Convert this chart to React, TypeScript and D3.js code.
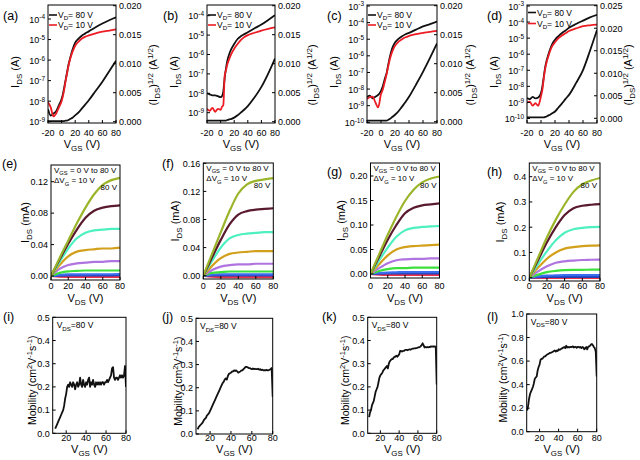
import React from 'react';
import * as d3 from 'd3';

const FONT = '"Liberation Sans", Arial, Helvetica, sans-serif';

// ---------------- Transfer curves (a-d) ----------------
const vgsTransfer = [-20, -16, -12, -8, -4, 0, 2, 4, 6, 8, 10, 13, 16, 20, 25, 30, 35, 40, 50, 60, 70, 80];

const idsA80 = [4.0e-9, 2.0e-9, 2.5e-9, 3.2e-9, 6.3e-9, 1.26e-8, 2.24e-8, 5.0e-8, 1.12e-7, 2.5e-7, 5.6e-7, 1.41e-6, 3.2e-6, 7.1e-6, 1.12e-5, 1.58e-5, 2.0e-5, 2.5e-5, 4.0e-5, 6.0e-5, 8.7e-5, 1.2e-4];
const idsA10 = [8.9e-9, 5.0e-9, 1.8e-9, 2.5e-9, 5.0e-9, 1.0e-8, 1.8e-8, 4.0e-8, 1.0e-7, 2.24e-7, 5.0e-7, 1.26e-6, 2.5e-6, 5.0e-6, 7.9e-6, 1.12e-5, 1.38e-5, 1.58e-5, 2.0e-5, 2.4e-5, 2.75e-5, 3.16e-5];
const sqrtA = [0.0001, 0.0001, 0.0001, 0.0001, 0.0001, 0.0001, 0.0001, 0.0001, 0.0002, 0.0002, 0.0003, 0.0005, 0.0007, 0.0011, 0.0016, 0.0023, 0.003, 0.0037, 0.0053, 0.0069, 0.0087, 0.0105];

const idsB80 = [1.0e-8, 8.9e-9, 7.9e-9, 7.9e-9, 7.1e-9, 6.3e-9, 7.1e-9, 1.26e-8, 6.3e-8, 2.0e-7, 5.0e-7, 1.12e-6, 2.0e-6, 3.5e-6, 6.3e-6, 8.9e-6, 1.12e-5, 1.41e-5, 2.24e-5, 3.5e-5, 6.0e-5, 1.07e-4];
const idsB10 = [1.58e-9, 1.26e-9, 1.78e-9, 1.12e-9, 1.58e-9, 1.41e-9, 2.0e-9, 2.5e-9, 7.9e-8, 1.58e-7, 3.2e-7, 6.3e-7, 1.12e-6, 2.0e-6, 3.5e-6, 5.6e-6, 7.9e-6, 1.0e-5, 1.32e-5, 1.7e-5, 2.1e-5, 2.5e-5];
const sqrtB = [0.0002, 0.0002, 0.0002, 0.0002, 0.0002, 0.0002, 0.0002, 0.0002, 0.0002, 0.0002, 0.0003, 0.0004, 0.0005, 0.0007, 0.0011, 0.0016, 0.0021, 0.0027, 0.0042, 0.006, 0.0083, 0.0109];

const idsC80 = [3.3e-9, 4.0e-9, 2.8e-9, 3.5e-9, 4.5e-9, 7.9e-9, 1.26e-8, 2.5e-8, 5.0e-8, 8.9e-8, 2.5e-7, 1.0e-6, 2.8e-6, 6.3e-6, 1.05e-5, 1.5e-5, 2.0e-5, 2.4e-5, 3.8e-5, 5.9e-5, 8.1e-5, 1.17e-4];
const idsC10 = [2.5e-9, 3.2e-9, 3.5e-9, 1.58e-9, 7.9e-10, 5.0e-9, 7.9e-9, 1.58e-8, 3.5e-8, 7.9e-8, 2.0e-7, 7.1e-7, 1.78e-6, 4.0e-6, 7.1e-6, 1.0e-5, 1.32e-5, 1.58e-5, 2.0e-5, 2.4e-5, 2.8e-5, 3.2e-5];
const sqrtC = [0.0002, 0.0002, 0.0002, 0.0002, 0.0002, 0.0002, 0.0002, 0.0002, 0.0002, 0.0002, 0.0003, 0.0005, 0.0008, 0.0012, 0.0018, 0.0026, 0.0034, 0.0043, 0.0064, 0.0086, 0.011, 0.0135];

const idsD80 = [1.9e-9, 1.58e-9, 2.24e-9, 1.78e-9, 2.0e-9, 3.8e-9, 1.0e-8, 4.0e-8, 1.58e-7, 4.0e-7, 7.9e-7, 2.0e-6, 4.3e-6, 7.9e-6, 1.35e-5, 2.1e-5, 3.0e-5, 4.4e-5, 7.6e-5, 1.23e-4, 1.95e-4, 2.8e-4];
const idsD10 = [9.5e-10, 1.12e-9, 6.3e-10, 8.9e-10, 6.3e-10, 2.5e-9, 6.3e-9, 3.2e-8, 1.26e-7, 3.2e-7, 6.3e-7, 1.58e-6, 3.2e-6, 5.6e-6, 1.0e-5, 1.48e-5, 2.0e-5, 2.75e-5, 4.0e-5, 5.5e-5, 6.3e-5, 6.9e-5];
const sqrtD = [0.0002, 0.0002, 0.0002, 0.0002, 0.0002, 0.0002, 0.0002, 0.0002, 0.0003, 0.0004, 0.0006, 0.0008, 0.0011, 0.0015, 0.0024, 0.0033, 0.0043, 0.0052, 0.0078, 0.0107, 0.015, 0.0196];

const transferXTicks = [-20, 0, 20, 40, 60, 80];
const logTicks9to4 = [1e-9, 1e-8, 1e-7, 1e-6, 1e-5, 1e-4];
const logTicks10to3 = [1e-10, 1e-9, 1e-8, 1e-7, 1e-6, 1e-5, 1e-4, 1e-3];
const sqrtTicks20 = [0, 0.005, 0.01, 0.015, 0.02];
const sqrtTicks25 = [0, 0.005, 0.01, 0.015, 0.02, 0.025];

// ---------------- Output curves (e-h) ----------------
const vdsOutput = [0, 10, 20, 30, 40, 50, 60, 70, 80];
const vgsSteps = ['80', '70', '60', '50', '40', '30', '20', '10', '0'];
const outColors = ['#9ab52a', '#5a1a2e', '#4ef0c0', '#d3a01c', '#b074e0', '#3ce03c', '#3a6cf0', '#2040b8', '#f0304a'];

const outE = [
  [0, 0.023, 0.045, 0.067, 0.087, 0.104, 0.116, 0.122, 0.125],
  [0, 0.021, 0.041, 0.059, 0.074, 0.083, 0.087, 0.089, 0.09],
  [0, 0.018, 0.035, 0.048, 0.055, 0.058, 0.059, 0.06, 0.06],
  [0, 0.014, 0.025, 0.031, 0.033, 0.034, 0.035, 0.035, 0.036],
  [0, 0.009, 0.014, 0.016, 0.017, 0.018, 0.018, 0.019, 0.019],
  [0, 0.004, 0.006, 0.0065, 0.007, 0.007, 0.007, 0.007, 0.007],
  [0, 0.0015, 0.002, 0.002, 0.002, 0.0022, 0.0022, 0.0022, 0.0023],
  [0, 0.0005, 0.0008, 0.0008, 0.0008, 0.0009, 0.0009, 0.0009, 0.001],
  [0, -0.0008, -0.001, -0.001, -0.001, -0.001, -0.0011, -0.0011, -0.0012],
];
const outF = [
  [0, 0.031, 0.062, 0.092, 0.117, 0.13, 0.135, 0.137, 0.139],
  [0, 0.026, 0.051, 0.073, 0.087, 0.092, 0.094, 0.095, 0.096],
  [0, 0.021, 0.04, 0.053, 0.058, 0.06, 0.061, 0.062, 0.062],
  [0, 0.014, 0.025, 0.031, 0.033, 0.034, 0.035, 0.035, 0.035],
  [0, 0.008, 0.013, 0.015, 0.016, 0.016, 0.017, 0.017, 0.017],
  [0, 0.004, 0.005, 0.006, 0.006, 0.006, 0.006, 0.006, 0.006],
  [0, 0.0015, 0.002, 0.002, 0.002, 0.002, 0.002, 0.002, 0.002],
  [0, 0.0004, 0.0005, 0.0005, 0.0005, 0.0005, 0.0005, 0.0005, 0.0005],
  [0, -0.0015, -0.002, -0.002, -0.002, -0.002, -0.002, -0.002, -0.002],
];
const outG = [
  [0, 0.04, 0.08, 0.117, 0.149, 0.172, 0.187, 0.195, 0.199],
  [0, 0.035, 0.07, 0.1, 0.124, 0.135, 0.14, 0.142, 0.144],
  [0, 0.028, 0.054, 0.076, 0.089, 0.094, 0.096, 0.097, 0.098],
  [0, 0.02, 0.038, 0.05, 0.055, 0.057, 0.058, 0.059, 0.06],
  [0, 0.012, 0.022, 0.028, 0.03, 0.031, 0.031, 0.032, 0.032],
  [0, 0.006, 0.01, 0.012, 0.012, 0.013, 0.013, 0.013, 0.013],
  [0, 0.002, 0.003, 0.0035, 0.004, 0.004, 0.004, 0.004, 0.004],
  [0, 0.0006, 0.001, 0.001, 0.001, 0.001, 0.001, 0.001, 0.001],
  [0, -0.0015, -0.002, -0.002, -0.002, -0.002, -0.002, -0.002, -0.002],
];
const outH = [
  [0, 0.08, 0.16, 0.23, 0.29, 0.34, 0.37, 0.385, 0.395],
  [0, 0.07, 0.14, 0.2, 0.248, 0.275, 0.285, 0.289, 0.291],
  [0, 0.055, 0.105, 0.148, 0.178, 0.192, 0.197, 0.2, 0.201],
  [0, 0.04, 0.075, 0.1, 0.115, 0.121, 0.125, 0.127, 0.128],
  [0, 0.025, 0.045, 0.059, 0.065, 0.068, 0.07, 0.071, 0.072],
  [0, 0.012, 0.022, 0.027, 0.03, 0.031, 0.031, 0.032, 0.032],
  [0, 0.005, 0.008, 0.009, 0.01, 0.01, 0.01, 0.01, 0.01],
  [0, 0.002, 0.003, 0.003, 0.003, 0.003, 0.003, 0.003, 0.003],
  [0, -0.001, -0.001, -0.001, -0.001, -0.001, -0.001, -0.001, -0.001],
];
const outXTicks = [0, 20, 40, 60, 80];
const outTicksE = [0, 0.04, 0.08, 0.12];
const outTicksF = [0, 0.04, 0.08, 0.12, 0.16];
const outTicksG = [0, 0.05, 0.1, 0.15, 0.2];
const outTicksH = [0, 0.1, 0.2, 0.3, 0.4];

// ---------------- Mobility (i-l), one value per 1 V step ----------------
const mobStartI = 9;
const mobI = [0.02, 0.03, 0.04, 0.05, 0.06, 0.07, 0.08, 0.09, 0.10, 0.12, 0.15, 0.17, 0.20, 0.21, 0.20, 0.22, 0.21, 0.20, 0.22, 0.21, 0.19, 0.21, 0.22, 0.20, 0.21, 0.24, 0.21, 0.20, 0.23, 0.21, 0.20, 0.22, 0.21, 0.23, 0.24, 0.20, 0.22, 0.21, 0.23, 0.21, 0.20, 0.22, 0.21, 0.22, 0.21, 0.22, 0.21, 0.22, 0.22, 0.21, 0.22, 0.22, 0.23, 0.22, 0.23, 0.24, 0.25, 0.28, 0.285, 0.24, 0.23, 0.24, 0.24, 0.23, 0.24, 0.25, 0.24, 0.25, 0.24, 0.25, 0.29, 0.20];
const mobStartJ = 8;
const mobJ = [0.02, 0.03, 0.035, 0.04, 0.045, 0.05, 0.06, 0.065, 0.07, 0.08, 0.085, 0.09, 0.10, 0.11, 0.12, 0.13, 0.14, 0.15, 0.16, 0.17, 0.18, 0.19, 0.20, 0.21, 0.22, 0.225, 0.235, 0.24, 0.235, 0.25, 0.26, 0.262, 0.265, 0.27, 0.27, 0.275, 0.272, 0.275, 0.27, 0.265, 0.268, 0.27, 0.275, 0.275, 0.28, 0.285, 0.29, 0.29, 0.288, 0.285, 0.285, 0.282, 0.28, 0.283, 0.28, 0.282, 0.28, 0.28, 0.282, 0.278, 0.28, 0.276, 0.278, 0.275, 0.276, 0.275, 0.277, 0.275, 0.275, 0.278, 0.28, 0.285, 0.16];
const mobStartK = 8;
const mobK = [0.07, 0.09, 0.10, 0.12, 0.13, 0.14, 0.16, 0.18, 0.19, 0.20, 0.22, 0.24, 0.25, 0.255, 0.26, 0.27, 0.275, 0.28, 0.285, 0.29, 0.28, 0.30, 0.31, 0.315, 0.32, 0.32, 0.325, 0.33, 0.33, 0.335, 0.33, 0.335, 0.34, 0.355, 0.355, 0.352, 0.355, 0.355, 0.358, 0.36, 0.36, 0.358, 0.36, 0.362, 0.36, 0.362, 0.365, 0.365, 0.366, 0.366, 0.367, 0.368, 0.37, 0.37, 0.372, 0.375, 0.38, 0.388, 0.38, 0.37, 0.372, 0.37, 0.372, 0.37, 0.372, 0.372, 0.375, 0.374, 0.375, 0.373, 0.375, 0.372, 0.21];
const mobStartL = 7;
const mobL = [0.18, 0.22, 0.28, 0.32, 0.34, 0.36, 0.38, 0.41, 0.45, 0.46, 0.47, 0.52, 0.55, 0.57, 0.61, 0.62, 0.62, 0.63, 0.64, 0.64, 0.65, 0.655, 0.66, 0.665, 0.67, 0.67, 0.675, 0.68, 0.685, 0.69, 0.68, 0.69, 0.685, 0.70, 0.695, 0.70, 0.705, 0.71, 0.715, 0.72, 0.71, 0.73, 0.715, 0.72, 0.715, 0.72, 0.718, 0.72, 0.725, 0.715, 0.72, 0.72, 0.712, 0.72, 0.72, 0.715, 0.72, 0.71, 0.72, 0.715, 0.70, 0.71, 0.72, 0.70, 0.72, 0.725, 0.73, 0.74, 0.745, 0.735, 0.72, 0.71, 0.68, 0.47];
const mobXTicks = [20, 40, 60, 80];
const mobTicks05 = [0, 0.1, 0.2, 0.3, 0.4, 0.5];
const mobTicks10 = [0, 0.2, 0.4, 0.6, 0.8, 1.0];

// ---------------- helpers ----------------
type Seg = { t: string; s?: 'sub' | 'sup' };

function segsEl(segs: Seg[], size: number) {
  let shift = 0;
  return segs.map((sg, i) => {
    const target = sg.s === 'sub' ? size * 0.28 : sg.s === 'sup' ? -size * 0.34 : 0;
    const dy = target - shift;
    shift = target;
    return (
      <tspan key={i} dy={dy} fontSize={sg.s ? size * 0.72 : size}>
        {sg.t}
      </tspan>
    );
  });
}

function Txt({ x, y, segs, size, anchor = 'start', rotate = false, fill = '#000' }: any) {
  if (rotate) {
    return (
      <text transform={`translate(${x},${y}) rotate(-90)`} textAnchor={anchor} fontSize={size} fontFamily={FONT} fill={fill}>
        {segsEl(segs, size)}
      </text>
    );
  }
  return (
    <text x={x} y={y} textAnchor={anchor} fontSize={size} fontFamily={FONT} fill={fill}>
      {segsEl(segs, size)}
    </text>
  );
}

const TICK = 3;
const TF = 9; // tick font
const AF = 11; // axis title font

function Frame({ x0, x1, y0, y1 }: any) {
  return <rect x={x0} y={y0} width={x1 - x0} height={y1 - y0} fill="none" stroke="#000" strokeWidth={1} />;
}

function XAxis({ scale, ticks, y1, fmt, base }: any) {
  return (
    <g>
      {ticks.map((t: number) => (
        <g key={t}>
          <line x1={scale(t)} x2={scale(t)} y1={y1} y2={y1 - TICK} stroke="#000" />
          <text x={scale(t)} y={base} textAnchor="middle" fontSize={TF} fontFamily={FONT}>
            {fmt(t)}
          </text>
        </g>
      ))}
    </g>
  );
}

function YAxisLin({ scale, ticks, x0, fmt, right = false }: any) {
  return (
    <g>
      {ticks.map((t: number) => (
        <g key={t}>
          <line x1={x0} x2={right ? x0 - TICK : x0 + TICK} y1={scale(t)} y2={scale(t)} stroke="#000" />
          <text x={right ? x0 + 3 : x0 - 3} y={scale(t) + 3.3} textAnchor={right ? 'start' : 'end'} fontSize={TF} fontFamily={FONT}>
            {fmt(t)}
          </text>
        </g>
      ))}
    </g>
  );
}

function YAxisLog({ scale, ticks, x0 }: any) {
  return (
    <g>
      {ticks.map((t: number) => (
        <g key={t}>
          <line x1={x0} x2={x0 + TICK} y1={scale(t)} y2={scale(t)} stroke="#000" />
          <Txt x={x0 - 3} y={scale(t) + 3.5} size={TF} anchor="end" segs={[{ t: '10' }, { t: String(Math.round(Math.log10(t))), s: 'sup' }]} />
        </g>
      ))}
    </g>
  );
}

// ---------------- panels ----------------
function TransferPanel({ cfg, black, red, sq }: any) {
  const { x0, x1, y0, y1 } = cfg;
  const x = d3.scaleLinear().domain([-20, 80]).range([x0, x1]);
  const yl = d3.scaleLog().domain(cfg.logDomain).range(cfg.logRange);
  const yr = d3.scaleLinear().domain(cfg.rDomain).range(cfg.rRange);
  const mk = (ys: number[], s: any) =>
    d3.line<number>().x((_, i) => x(vgsTransfer[i])).y((d) => s(d)).curve(d3.curveMonotoneX)(ys) || '';
  const clip = `clip-${cfg.id}`;
  const fmt3 = d3.format('.3f');
  const cy = (y0 + y1) / 2 + 8;
  return (
    <g>
      <defs>
        <clipPath id={clip}>
          <rect x={x0} y={y0} width={x1 - x0} height={y1 - y0} />
        </clipPath>
      </defs>
      <g clipPath={`url(#${clip})`}>
        <path d={mk(sq, yr)} fill="none" stroke="#111" strokeWidth={1.8} />
        <path d={mk(black, yl)} fill="none" stroke="#111" strokeWidth={1.8} />
        <path d={mk(red, yl)} fill="none" stroke="#ec1c24" strokeWidth={1.8} />
      </g>
      <Frame x0={x0} x1={x1} y0={y0} y1={y1} />
      <XAxis scale={x} ticks={transferXTicks} y1={y1} fmt={(t: number) => String(t)} base={136} />
      <YAxisLog scale={yl} ticks={cfg.logTicks} x0={x0} />
      <YAxisLin scale={yr} ticks={cfg.rTicks} x0={x1} fmt={fmt3} right />
      {/* legend */}
      <line x1={x0 + 1} x2={x0 + 9} y1={cfg.leg[0]} y2={cfg.leg[0]} stroke="#111" strokeWidth={1.6} />
      <Txt x={x0 + 10} y={cfg.leg[0] + 3} size={8.5} segs={[{ t: 'V' }, { t: 'D', s: 'sub' }, { t: '= 80 V' }]} />
      <line x1={x0 + 1} x2={x0 + 9} y1={cfg.leg[1]} y2={cfg.leg[1]} stroke="#ec1c24" strokeWidth={1.6} />
      <Txt x={x0 + 10} y={cfg.leg[1] + 3} size={8.5} segs={[{ t: 'V' }, { t: 'D', s: 'sub' }, { t: '= 10 V' }]} />
      {/* titles */}
      <Txt x={(x0 + x1) / 2} y={148} size={AF} anchor="middle" segs={[{ t: 'V' }, { t: 'GS', s: 'sub' }, { t: ' (V)' }]} />
      <Txt x={x0 - 33 + 4} y={cy} size={AF} anchor="middle" rotate segs={[{ t: 'I' }, { t: 'DS', s: 'sub' }, { t: ' (A)' }]} />
      <Txt x={x1 + cfg.rt + 4} y={cy + 3} size={AF} anchor="middle" rotate
        segs={[{ t: '(I' }, { t: 'DS', s: 'sub' }, { t: ')' }, { t: '1/2', s: 'sup' }, { t: ' (A' }, { t: '1/2', s: 'sup' }, { t: ')' }]} />
      <text x={cfg.lab} y={19.5} fontSize={12.5} fontFamily={FONT}>{`(${cfg.id})`}</text>
    </g>
  );
}

function OutputPanel({ cfg, curves }: any) {
  const { x0, x1, y0, y1 } = cfg;
  const x = d3.scaleLinear().domain([0, 80]).range([x0, x1]);
  const y = d3.scaleLinear().domain(cfg.yDomain).range(cfg.yRange);
  const line = d3.line<number>().x((_, i) => x(vdsOutput[i])).y((d) => y(d)).curve(d3.curveMonotoneX);
  const clip = `clip-${cfg.id}`;
  const cy = (y0 + y1) / 2;
  return (
    <g>
      <defs>
        <clipPath id={clip}>
          <rect x={x0} y={y0} width={x1 - x0} height={y1 - y0} />
        </clipPath>
      </defs>
      <g clipPath={`url(#${clip})`}>
        {curves
          .map((c: number[], k: number) => ({ c, k }))
          .reverse()
          .map(({ c, k }: any) => (
            <path key={vgsSteps[k]} d={line(c) || ''} fill="none" stroke={outColors[k]} strokeWidth={2.2} />
          ))}
      </g>
      <Frame x0={x0} x1={x1} y0={y0} y1={y1} />
      <XAxis scale={x} ticks={outXTicks} y1={y1} fmt={(t: number) => String(t)} base={289} />
      <YAxisLin scale={y} ticks={cfg.ticks} x0={x0} fmt={d3.format(cfg.fmt)} />
      <Txt x={x0 + 3} y={y0 + 7.5} size={8} segs={[{ t: 'V' }, { t: 'GS', s: 'sub' }, { t: ' = 0 V to 80 V' }]} />
      <Txt x={x0 + 3} y={y0 + 18.4} size={8} segs={[{ t: '\u0394V' }, { t: 'G', s: 'sub' }, { t: ' = 10 V' }]} />
      <text x={x1 - 3} y={y0 + 24.5} textAnchor="end" fontSize={8} fontFamily={FONT}>80 V</text>
      <Txt x={(x0 + x1) / 2} y={301.5} size={AF} anchor="middle" segs={[{ t: 'V' }, { t: 'DS', s: 'sub' }, { t: ' (V)' }]} />
      <Txt x={x0 - cfg.yt + 4} y={cy} size={AF} anchor="middle" rotate segs={[{ t: 'I' }, { t: 'DS', s: 'sub' }, { t: ' (mA)' }]} />
      <text x={cfg.lab[0]} y={cfg.lab[1]} fontSize={12.5} fontFamily={FONT}>{`(${cfg.id})`}</text>
    </g>
  );
}

function MobilityPanel({ cfg, start, vals }: any) {
  const { x0, x1, y0, y1 } = cfg;
  const x = d3.scaleLinear().domain([6.5, 80]).range([x0, x1]);
  const y = d3.scaleLinear().domain(cfg.yDomain).range([y1, y0]);
  const line = d3.line<number>().x((_, i) => x(start + i)).y((d) => y(d));
  const clip = `clip-${cfg.id}`;
  const cy = (y0 + y1) / 2 + 5;
  return (
    <g>
      <defs>
        <clipPath id={clip}>
          <rect x={x0} y={y0} width={x1 - x0} height={y1 - y0} />
        </clipPath>
      </defs>
      <g clipPath={`url(#${clip})`}>
        <path d={line(vals) || ''} fill="none" stroke="#111" strokeWidth={1.8} strokeLinejoin="round" />
      </g>
      <Frame x0={x0} x1={x1} y0={y0} y1={y1} />
      <XAxis scale={x} ticks={mobXTicks} y1={y1} fmt={(t: number) => String(t)} base={441} />
      <YAxisLin scale={y} ticks={cfg.ticks} x0={x0} fmt={d3.format('.1f')} />
      <Txt x={x0 + 4} y={y0 + 11} size={8.5} segs={[{ t: 'V' }, { t: 'DS', s: 'sub' }, { t: '=80 V' }]} />
      <Txt x={(x0 + x1) / 2} y={452.5} size={AF} anchor="middle" segs={[{ t: 'V' }, { t: 'GS', s: 'sub' }, { t: ' (V)' }]} />
      <Txt x={x0 - cfg.yt + 4} y={cy} size={10.5} anchor="middle" rotate
        segs={[{ t: 'Mobility (cm' }, { t: '2', s: 'sup' }, { t: 'V' }, { t: '-1', s: 'sup' }, { t: 's' }, { t: '-1', s: 'sup' }, { t: ')' }]} />
      <text x={cfg.lab} y={321} fontSize={12.5} fontFamily={FONT}>{`(${cfg.id})`}</text>
    </g>
  );
}

const transferCfgs = [
  { id: 'a', x0: 48, x1: 116, y0: 5, y1: 123, logDomain: [1e-9, 1e-4], logRange: [121.7, 19], logTicks: logTicks9to4, rDomain: [0, 0.02], rRange: [121.7, 5.7], rTicks: sqrtTicks20, leg: [15, 25], lab: 3, rt: 37 },
  { id: 'b', x0: 207, x1: 275, y0: 5, y1: 123, logDomain: [1e-9, 1e-4], logRange: [112.7, 15.7], logTicks: logTicks9to4, rDomain: [0, 0.02], rRange: [121.7, 5.7], rTicks: sqrtTicks20, leg: [15, 25], lab: 163, rt: 37 },
  { id: 'c', x0: 367, x1: 437, y0: 5, y1: 123, logDomain: [1e-10, 1e-3], logRange: [122.3, 6], logTicks: logTicks10to3, rDomain: [0, 0.02], rRange: [121.7, 5.7], rTicks: sqrtTicks20, leg: [15, 25], lab: 327, rt: 33 },
  { id: 'd', x0: 527, x1: 597, y0: 5, y1: 123, logDomain: [1e-10, 1e-3], logRange: [118.5, 6], logTicks: logTicks10to3, rDomain: [0, 0.025], rRange: [118.3, 5.7], rTicks: sqrtTicks25, leg: [12.5, 23.5], lab: 487, rt: 31 },
];
const transferData = [
  { black: idsA80, red: idsA10, sq: sqrtA },
  { black: idsB80, red: idsB10, sq: sqrtB },
  { black: idsC80, red: idsC10, sq: sqrtC },
  { black: idsD80, red: idsD10, sq: sqrtD },
];

const outputCfgs = [
  { id: 'e', x0: 51, x1: 120, y0: 165, y1: 280, yDomain: [0, 0.12], yRange: [276, 181.7], ticks: outTicksE, fmt: '.2f', yt: 26, lab: [2, 167.5] },
  { id: 'f', x0: 203.3, x1: 273.3, y0: 163, y1: 279, yDomain: [0, 0.16], yRange: [275.7, 163.3], ticks: outTicksF, fmt: '.2f', yt: 28, lab: [162, 167.5] },
  { id: 'g', x0: 370.5, x1: 439.5, y0: 163, y1: 278, yDomain: [0, 0.2], yRange: [274, 176], ticks: outTicksG, fmt: '.2f', yt: 30, lab: [327, 176] },
  { id: 'h', x0: 529.3, x1: 600, y0: 163, y1: 281, yDomain: [0, 0.4], yRange: [277.7, 176.7], ticks: outTicksH, fmt: '.1f', yt: 29, lab: [487, 176] },
];
const outputData = [outE, outF, outG, outH];

const mobCfgs = [
  { id: 'i', x0: 52.7, x1: 126, y0: 317.3, y1: 433.3, yDomain: [0, 0.5], ticks: mobTicks05, yt: 21, lab: 3 },
  { id: 'j', x0: 196, x1: 272.7, y0: 318.3, y1: 434, yDomain: [0, 0.5], ticks: mobTicks05, yt: 18, lab: 162 },
  { id: 'k', x0: 367.7, x1: 436.7, y0: 317.3, y1: 433.3, yDomain: [0, 0.5], ticks: mobTicks05, yt: 23, lab: 322 },
  { id: 'l', x0: 526.7, x1: 596.7, y0: 314, y1: 431.7, yDomain: [0, 1.0], ticks: mobTicks10, yt: 24, lab: 487 },
];
const mobData = [
  { start: mobStartI, vals: mobI },
  { start: mobStartJ, vals: mobJ },
  { start: mobStartK, vals: mobK },
  { start: mobStartL, vals: mobL },
];

export default function App() {
  return (
    <svg width={640} height={460} viewBox="0 0 640 460" style={{ position: 'absolute', left: 0, top: 0, background: '#fff' }}>
      <rect width={640} height={460} fill="#fff" />
      {transferCfgs.map((c, i) => (
        <TransferPanel key={c.id} cfg={c} {...transferData[i]} />
      ))}
      {outputCfgs.map((c, i) => (
        <OutputPanel key={c.id} cfg={c} curves={outputData[i]} />
      ))}
      {mobCfgs.map((c, i) => (
        <MobilityPanel key={c.id} cfg={c} {...mobData[i]} />
      ))}
    </svg>
  );
}
